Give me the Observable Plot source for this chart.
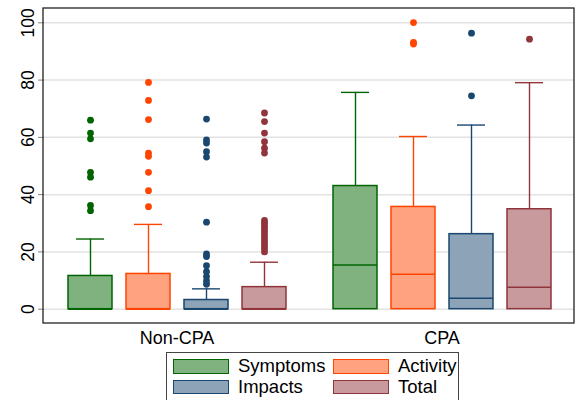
<!DOCTYPE html>
<html><head><meta charset="utf-8">
<script src="https://cdn.jsdelivr.net/npm/d3@7"></script>
<script src="https://cdn.jsdelivr.net/npm/@observablehq/plot@0.6"></script>
<style>
body{margin:0;background:#fff;font-family:"Liberation Sans",Arial,sans-serif;}
#chart{height:350px;}
#legend{position:absolute;left:166px;top:352px;width:293px;height:60px;border:1px solid #444;box-sizing:border-box;padding:6px 0 0 6px;display:grid;grid-template-columns:160px 130px;grid-auto-rows:20.7px;}
.item{display:flex;align-items:center;height:14.7px;font-size:18.5px;line-height:1;color:#000;}
.sw{width:56px;height:14.7px;box-sizing:border-box;border:1.5px solid;margin-right:9px;flex:none;}
</style></head><body><div id="chart"></div><div id="legend"></div>
<script>
const groups = ["Non-CPA", "CPA"];
const series = ["Symptoms", "Activity", "Impacts", "Total"];
const fills = ["#80b280", "#ffa280", "#8da3b7", "#c89a9d"];
const strokes = ["#006400", "#ff4500", "#1a476f", "#90353b"];
const yTicks = [0, 20, 40, 60, 80, 100];

// [group][series]
const lowerWhiskers = [[0, 0, 0, 0], [0, 0, 0, 0]];
const lowerQuartiles = [[0, 0, 0, 0], [0, 0, 0, 0]];
const medians = [[0, 0, 0, 0], [15.4, 12.2, 3.8, 7.7]];
const upperQuartiles = [[11.6, 12.3, 3.2, 7.7], [43.0, 35.7, 26.2, 34.9]];
const upperWhiskers = [[24.5, 29.6, 7.1, 16.4], [75.7, 60.3, 64.3, 79.1]];
const outliers = [
  [
    [66, 61.5, 59.5, 47.8, 46.1, 36.2, 34.4],
    [79.2, 72.9, 66.2, 54.5, 53.4, 47.8, 41.4, 35.8],
    [66.4, 59.1, 58, 55, 53.1, 30.4, 19.3, 18.4, 15.2, 13.1, 11.4, 9.9, 8.7],
    [68.5, 65.5, 61.5, 58.5, 56.2, 54.5, 31, 30, 29, 28, 27, 26, 25, 24, 23, 22, 21, 20]
  ],
  [
    [],
    [100.1, 93.2, 92.6],
    [96.4, 74.5],
    [94.3]
  ]
];

const rows = [];
const pts = [];
groups.forEach((g, gi) => series.forEach((s, si) => {
  rows.push({group: g, series: s, lo: lowerWhiskers[gi][si], q1: lowerQuartiles[gi][si],
    med: medians[gi][si], q3: upperQuartiles[gi][si], hi: upperWhiskers[gi][si],
    fill: fills[si], stroke: strokes[si]});
  outliers[gi][si].forEach(v => pts.push({group: g, series: s, value: v, stroke: strokes[si]}));
}));

const plot = Plot.plot({
  width: 577, height: 350,
  marginLeft: 43, marginRight: 3, marginTop: 8, marginBottom: 27,
  style: {fontFamily: "'Liberation Sans', Arial, sans-serif", background: "#fff", overflow: "visible"},
  fx: {domain: groups, padding: 0, label: null},
  x: {domain: series, paddingInner: 0.248, paddingOuter: 0.393, axis: null},
  y: {domain: [-5, 105]},
  marks: [
    Plot.gridY(yTicks, {stroke: "#e2e2e2", strokeOpacity: 1, strokeWidth: 1.5}),
    Plot.axisY(yTicks, {anchor: "left", tickRotate: -90, tickSize: 6, tickPadding: 5, fontSize: 17.5, stroke: "#808080", fill: "#000", label: null}),
    Plot.axisFx({anchor: "bottom", tickSize: 0, tickPadding: 8, fontSize: 18, fill: "#000", label: null}),
    Plot.ruleX(rows, {fx: "group", x: "series", y1: "q3", y2: "hi", stroke: "stroke", strokeWidth: 1.4}),
    Plot.ruleX(rows, {fx: "group", x: "series", y1: "lo", y2: "q1", stroke: "stroke", strokeWidth: 1.4}),
    Plot.tickY(rows, {fx: "group", x: "series", y: "hi", stroke: "stroke", strokeWidth: 1.4, insetLeft: 8, insetRight: 8}),
    Plot.barY(rows, {fx: "group", x: "series", y1: "q1", y2: "q3", fill: "fill", stroke: "stroke", strokeWidth: 1.5}),
    Plot.tickY(rows, {fx: "group", x: "series", y: "med", stroke: "stroke", strokeWidth: 1.5}),
    Plot.dot(pts, {fx: "group", x: "series", y: "value", r: 3.4, fill: "stroke", stroke: null})
  ]
});

d3.select(plot).append("rect")
  .attr("x", 43).attr("y", 8).attr("width", 531).attr("height", 315)
  .attr("fill", "none").attr("stroke", "#222").attr("stroke-width", 1.3);

document.getElementById("chart").appendChild(plot);

const legend = d3.select("#legend");
series.forEach((s, i) => {
  const it = legend.append("div").attr("class", "item");
  it.append("div").attr("class", "sw").style("background", fills[i]).style("border-color", strokes[i]);
  it.append("span").text(s);
});
</script>
</body></html>
